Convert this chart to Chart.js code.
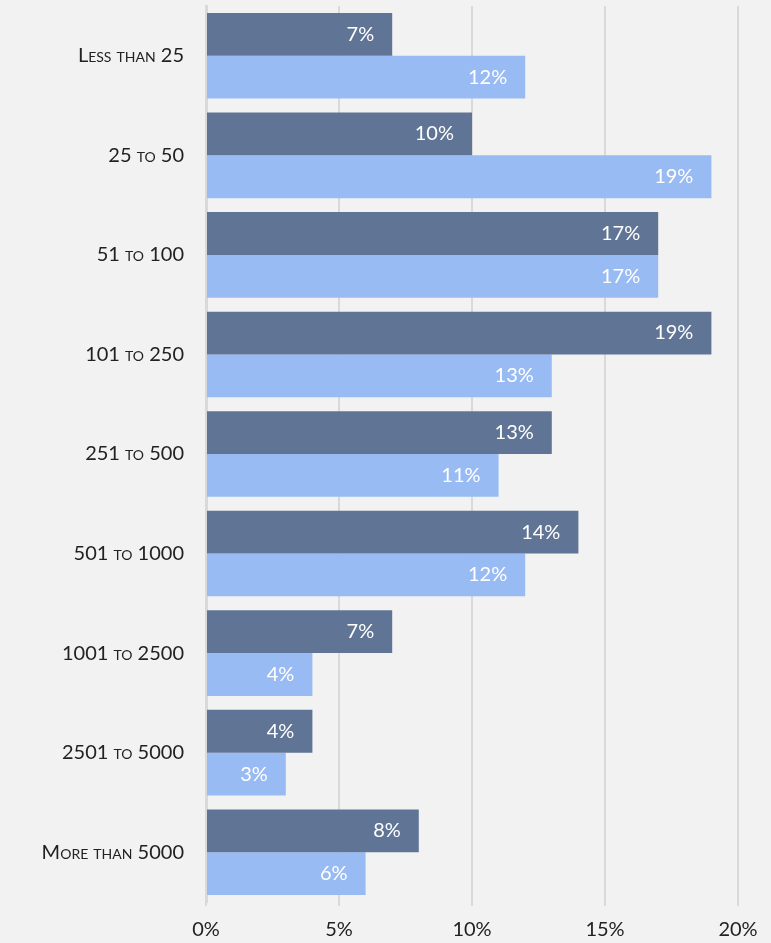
<!DOCTYPE html>
<html lang="en">
<head>
  <meta charset="UTF-8" />
  <title>Bars by size band</title>
  <script src="https://cdn.jsdelivr.net/npm/chart.js"></script>
  <style>
    html, body {
      margin: 0;
      padding: 0;
      background: #f2f2f2;
    }
    #wrap {
      width: 771px;
      height: 943px;
    }
  </style>
</head>
<body>
  <div id="wrap"><canvas id="bars"></canvas></div>

  <script>
    const categories = [
      "Less than 25", "25 to 50", "51 to 100", "101 to 250", "251 to 500",
      "501 to 1000", "1001 to 2500", "2501 to 5000", "More than 5000"
    ];
    const seriesA = [7, 10, 17, 19, 13, 14, 7, 4, 8];
    const seriesB = [12, 19, 17, 13, 11, 12, 4, 3, 6];
    const xTicks = [0, 5, 10, 15, 20];

    // white value labels just inside the end of each bar
    const barLabels = {
      id: 'barLabels',
      afterDatasetsDraw(chart) {
        const ctx = chart.ctx;
        ctx.save();
        ctx.fillStyle = '#ffffff';
        ctx.font = '20px Lato';
        ctx.textAlign = 'right';
        ctx.textBaseline = 'middle';
        chart.data.datasets.forEach((ds, i) => {
          chart.getDatasetMeta(i).data.forEach((bar, j) => {
            ctx.fillText(ds.data[j] + '%', bar.x - 18, bar.y);
          });
        });
        ctx.restore();
      }
    };

    const ctx = document.getElementById('bars').getContext('2d');
    new Chart(ctx, {
      type: 'bar',
      data: {
        labels: categories,
        datasets: [
          { label: 'A', data: seriesA, backgroundColor: '#607596', barPercentage: 1, categoryPercentage: 0.86 },
          { label: 'B', data: seriesB, backgroundColor: '#99bbf3', barPercentage: 1, categoryPercentage: 0.86 }
        ]
      },
      options: {
        indexAxis: 'y',
        responsive: true,
        maintainAspectRatio: false,
        animation: false,
        layout: { autoPadding: false, padding: { top: 6, right: 33, bottom: 0, left: 0 } },
        plugins: {
          legend: { display: false },
          title: { display: false },
          tooltip: { enabled: false }
        },
        scales: {
          x: {
            min: 0,
            max: 20,
            afterBuildTicks: axis => { axis.ticks = xTicks.map(v => ({ value: v })); },
            ticks: {
              callback: v => v + '%',
              color: '#222',
              font: { family: 'Lato', size: 20 },
              padding: 12
            },
            grid: { color: '#d9d9d9', lineWidth: 2, tickLength: 4 },
            border: { display: false },
            afterFit: s => {
              s.height = 41;
              s.paddingLeft = 0;
              s.paddingRight = 0;
            }
          },
          y: {
            ticks: {
              color: '#222',
              // "small-caps" goes into the font string ahead of the size
              font: { family: 'Lato', size: 20, weight: 'small-caps' },
              padding: 14
            },
            grid: { display: false },
            border: { display: true, color: '#d9d9d9', width: 3 },
            afterFit: s => {
              s.width = 206;
              s.paddingTop = 0;
              s.paddingBottom = 0;
            }
          }
        }
      },
      plugins: [barLabels]
    });
  </script>
</body>
</html>
